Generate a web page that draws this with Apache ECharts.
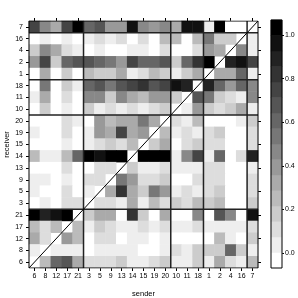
<!DOCTYPE html>
<html><head><meta charset="utf-8">
<script src="https://cdn.jsdelivr.net/npm/echarts@6/dist/echarts.min.js"></script>
<style>html,body{margin:0;padding:0;background:#fff}#c{width:298px;height:298px}</style>
</head><body><div id="c"></div>
<script>
// ---- data ----
const groups = [["6","8","12","17","21"],["3","5","9","13","14","15","19","20"],["10","11","18"],["1","2","4","16"],["7"]];
const categories = groups.flat(); // sender left->right, receiver bottom->top
const receiversTopDown = ["7","16","4","2","1","18","11","10","20","19","15","14","13","9","5","3","21","17","12","8","6"];
const D = null; // diagonal (not drawn)
// rows: receivers top->bottom; columns: senders in `categories` order
const row7  = [0.75,0.45,0.33,0.73,1.0, 0.62,0.67,0.4,0.4,0.93,0.47,0.4,0.47, 0.33,0.93,0.93, 0.07,1.0,0,0, D];
const row16 = [0,0.07,0,0.07,0, 0.07,0.13,0.07,0.13,0,0.13,0,0.27, 0.27,0,0.27, 0.53,0.2,0.2,D, 0.07];
const row4  = [0.2,0.47,0.33,0.13,0.07, 0,0.07,0,0,0.07,0.07,0,0.13, 0,0,0.13, 0.4,0.33,D,0.47, 0.07];
const row2  = [0.4,0.73,0.2,0.6,0.67, 0.67,0.6,0.53,0.4,0.73,0.6,0.6,0.67, 0.2,0.6,0.8, 1.0,D,0.87,0.93, 0.73];
const row1  = [0,0.33,0,0.2,0, 0.27,0.2,0.2,0.33,0.07,0.13,0.27,0.2, 0.07,0.2,0.33, D,0.33,0.33,0.6, 0.07];
const row18 = [0,0.53,0,0.2,0.07, 0.6,0.67,0.53,0.67,0.73,0.8,0.67,0.73, 0.93,0.87,D, 0.87,0.6,0.4,0.6, 0.47];
const row11 = [0.07,0.33,0,0.13,0, 0.47,0.47,0.2,0.47,0.33,0.27,0.4,0.4, 0.2,D,0.67, 0.53,0.2,0.13,0.07, 0.47];
const row10 = [0,0.2,0,0.07,0, 0.2,0.07,0.13,0.07,0.13,0.07,0.13,0.2, D,0.07,0.4, 0.2,0.13,0.2,0.33, 0.07];
const row20 = [0,0,0,0.13,0.07, 0,0.4,0.27,0.33,0.33,0.53,0.33,D, 0.13,0.07,0.27, 0,0,0,0.07, 0.2];
const row19 = [0.07,0,0,0.13,0, 0.07,0.4,0.33,0.73,0.33,0.4,D,0.27, 0.07,0.13,0.07, 0.13,0.2,0,0, 0.13];
const row15 = [0,0,0,0.07,0, 0.07,0.13,0.2,0.13,0.27,D,0.2,0.33, 0,0.13,0.2, 0.13,0.13,0,0, 0.13];
const row14 = [0.27,0.07,0.07,0.27,0.6, 1.0,0.93,1.0,1.0,D,1.0,1.0,1.0, 0.07,0.47,0.73, 0.07,0.6,0,0.13, 0.87];
const row13 = [0,0,0,0.13,0, 0,0.13,0.13,D,0.2,0.07,0.07,0.13, 0.07,0.07,0.07, 0.13,0.13,0,0, 0.07];
const row9  = [0.07,0.07,0,0.07,0, 0.13,0.13,D,0.53,0.4,0.13,0.13,0.2, 0,0,0.13, 0.13,0.13,0,0, 0.13];
const row5  = [0.07,0,0,0.13,0, 0.07,D,0.33,0.8,0.33,0.2,0.53,0.4, 0.07,0.13,0.07, 0.13,0.2,0,0, 0.13];
const row3  = [0,0.07,0,0.13,0.13, D,0.13,0.13,0.07,0.33,0.07,0.27,0.13, 0.2,0.13,0.27, 0.2,0.27,0,0, 0.2];
const row21 = [1.0,0.87,0.93,1.0,D, 0.2,0.33,0.33,0,0.8,0.2,0,0.33, 0,0,0.47, 0,0.67,0.47,0, 0.93];
const row17 = [0.27,0.13,0.27,D,0.27, 0.07,0.2,0.13,0.07,0.07,0.13,0.07,0.13, 0.07,0.07,0.13, 0.07,0.07,0.07,0.07, 0.13];
const row12 = [0.33,0.13,D,0.4,0.27, 0,0.13,0.13,0,0.07,0.07,0,0.07, 0,0,0, 0,0.27,0.07,0, 0.2];
const row8  = [0.07,D,0.07,0.07,0.07, 0,0.07,0.07,0.07,0.07,0,0,0.07, 0.13,0.07,0.2, 0.2,0.2,0.6,0.2, 0.07];
const row6  = [D,0.27,0.6,0.67,0.33, 0.13,0.13,0.13,0.2,0.07,0.07,0.13,0.2, 0.07,0.07,0.2, 0.07,0.33,0.13,0.07, 0.27];
const matrix = [row7,row16,row4,row2,row1,row18,row11,row10,row20,row19,row15,row14,row13,row9,row5,row3,row21,row17,row12,row8,row6];
const zRange = [-0.07, 1.07];
const nLevels = 16;
const legendTicks = [0, 0.2, 0.4, 0.6, 0.8, 1.0];

// ---- build ----
const FONT = 'Liberation Sans, Arial, sans-serif';
const n = categories.length;
const step = (zRange[1] - zRange[0]) / nLevels;
const pieces = [];
for (let k = 0; k < nLevels; k++) {
  const g = Math.round(255 * (1 - k / (nLevels - 1)));
  const p = {gte: zRange[0] + k * step, color: `rgb(${g},${g},${g})`};
  if (k < nLevels - 1) p.lt = zRange[0] + (k + 1) * step; else p.lte = zRange[1] + 1;
  pieces.push(p);
}
const heat = [];
receiversTopDown.forEach((r, i) => {
  const yi = categories.indexOf(r);
  matrix[i].forEach((v, xi) => { if (v !== null) heat.push([xi, yi, v]); });
});
const barData = [];
const binNames = [];
for (let k = 0; k < nLevels; k++) { binNames.push(String(k)); barData.push([0, k, zRange[0] + (k + 0.5) * step]); }

const seps = [];
let acc = 0;
groups.slice(0, -1).forEach(g => { acc += g.length; seps.push(acc); });

const lineSeries = [];
const mkLine = (pts, color, w) => ({
  type: 'line', xAxisIndex: 2, yAxisIndex: 2, data: pts, showSymbol: false, symbol: 'none',
  silent: true, animation: false, z: 6, lineStyle: {color: color, width: w}
});
seps.forEach(s => {
  lineSeries.push(mkLine([[s, 0], [s, n]], '#222', 1.5));
  lineSeries.push(mkLine([[0, s], [n, s]], '#222', 1.5));
});
lineSeries.push(mkLine([[0, 0], [n, n]], '#000', 1));
lineSeries.push(mkLine([[0, 0], [n, 0], [n, n], [0, n], [0, 0]], '#000', 1));

const main = {left: 29, top: 21, width: 229, height: 247, outerBoundsMode: 'none', containLabel: false};
const txt = {fontFamily: FONT, fontSize: 7, color: '#000'};
const tick = (len) => ({show: true, alignWithLabel: true, length: len, lineStyle: {color: '#000', width: 1}});

const option = {
  animation: false,
  backgroundColor: '#fff',
  grid: [
    Object.assign({}, main),
    {left: 271, top: 20, width: 11, height: 248, show: true, z: 10, borderColor: '#000', borderWidth: 1,
     backgroundColor: 'transparent', outerBoundsMode: 'none', containLabel: false},
    Object.assign({}, main)
  ],
  xAxis: [
    {type: 'category', gridIndex: 0, data: categories, position: 'bottom', axisLine: {show: false},
     axisTick: tick(3), axisLabel: Object.assign({interval: 0, margin: 5}, txt),
     name: 'sender', nameLocation: 'middle', nameGap: 22, nameMoveOverlap: false,
     nameTextStyle: {fontFamily: FONT, fontSize: 7.5, color: '#000'}},
    {type: 'category', gridIndex: 0, data: categories, position: 'top', axisLine: {show: false},
     axisTick: tick(3), axisLabel: {show: false}},
    {type: 'value', gridIndex: 2, min: 0, max: n, show: false, splitLine: {show: false}},
    {type: 'category', gridIndex: 1, data: ['c'], show: false}
  ],
  yAxis: [
    {type: 'category', gridIndex: 0, data: categories, position: 'left', axisLine: {show: false},
     axisTick: tick(3), axisLabel: Object.assign({interval: 0, margin: 6}, txt),
     name: 'receiver', nameLocation: 'middle', nameGap: 18, nameMoveOverlap: false,
     nameTextStyle: {fontFamily: FONT, fontSize: 7.5, color: '#000'}},
    {type: 'category', gridIndex: 0, data: categories, position: 'right', axisLine: {show: false},
     axisTick: tick(3), axisLabel: {show: false}},
    {type: 'value', gridIndex: 2, min: 0, max: n, show: false, splitLine: {show: false}},
    {type: 'category', gridIndex: 1, data: binNames, show: false},
    {type: 'value', gridIndex: 1, min: zRange[0], max: zRange[1], position: 'right',
     axisLine: {show: false}, splitLine: {show: false},
     axisTick: {show: true, length: 2, customValues: legendTicks, lineStyle: {color: '#000'}},
     axisLabel: Object.assign({margin: 3, customValues: legendTicks, formatter: v => Number(v).toFixed(1)}, txt)}
  ],
  visualMap: {type: 'piecewise', show: false, dimension: 2, seriesIndex: [0, 1], pieces: pieces},
  series: [
    {type: 'heatmap', xAxisIndex: 0, yAxisIndex: 0, data: heat, silent: true},
    {type: 'heatmap', xAxisIndex: 3, yAxisIndex: 3, data: barData, silent: true}
  ].concat(lineSeries)
};
const chart = echarts.init(document.getElementById('c'), null, {renderer: 'canvas'});
chart.setOption(option);
</script></body></html>
